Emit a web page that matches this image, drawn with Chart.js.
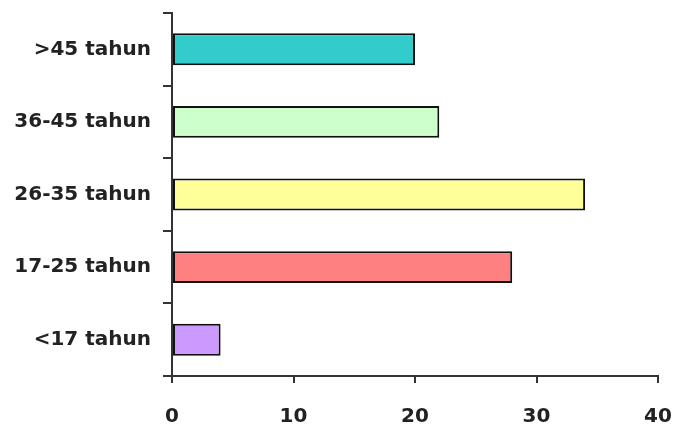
<!DOCTYPE html>
<html>
<head>
<meta charset="utf-8">
<script src="https://cdn.jsdelivr.net/npm/chart.js@4"></script>
<style>
  html, body { margin: 0; padding: 0; background: #fff; }
  #wrap { width: 674px; height: 427px; }
</style>
</head>
<body>
<div id="wrap"><canvas id="chart" width="674" height="427"></canvas></div>
<script>
// age groups, bottom to top as in the picture
const categories = ['<17 tahun', '17-25 tahun', '26-35 tahun', '36-45 tahun', '>45 tahun'];
const values = [4, 28, 34, 22, 20];
const barColors = ['#CC99FF', '#FF8080', '#FFFF99', '#CCFFCC', '#33CCCC'];
const xTicks = [0, 10, 20, 30, 40];

const font = { family: 'DejaVu Sans', size: 20, weight: 'bold' };

new Chart(document.getElementById('chart'), {
    type: 'bar',
    data: {
        labels: categories,
        datasets: [{
            data: values,
            backgroundColor: barColors,
            borderColor: '#111',
            borderWidth: 2,
            borderSkipped: false,
            categoryPercentage: 1,
            barPercentage: 0.44
        }]
    },
    options: {
        indexAxis: 'y',
        responsive: false,
        animation: false,
        layout: { padding: { left: 0, top: 13, right: 16, bottom: 0 } },
        plugins: { legend: { display: false }, tooltip: { enabled: false } },
        scales: {
            y: {
                reverse: true,
                offset: true,
                border: { display: true, color: '#333', width: 2 },
                grid: { offset: true, drawOnChartArea: false, tickLength: 9, color: '#333', lineWidth: 2 },
                ticks: { color: '#222', font: font, padding: 12 },
                afterFit: (scale) => {
                    scale.width = 172;
                    scale.paddingTop = 0;
                    scale.paddingBottom = 0;
                }
            },
            x: {
                min: 0,
                max: 40,
                border: { display: true, color: '#333', width: 2 },
                grid: { drawOnChartArea: false, tickLength: 7, color: '#333', lineWidth: 2 },
                ticks: {
                    color: '#222',
                    font: font,
                    padding: 22,
                    stepSize: 10,
                    callback: (v) => xTicks.includes(v) ? v : ''
                },
                afterFit: (scale) => {
                    scale.height = 51;
                    scale.paddingLeft = 0;
                    scale.paddingRight = 0;
                }
            }
        }
    }
});
</script>
</body>
</html>
